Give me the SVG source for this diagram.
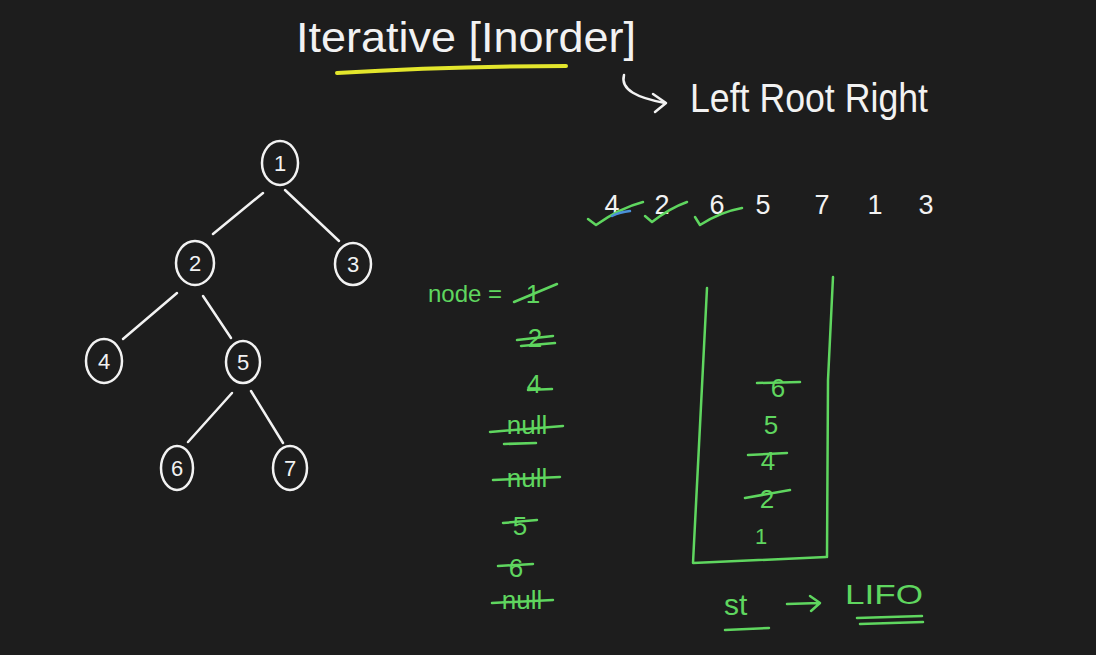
<svg xmlns="http://www.w3.org/2000/svg" width="1096" height="655" viewBox="0 0 1096 655">
<defs>
<style>
.w{fill:#f2f2f2;font-family:"Liberation Sans",Arial,sans-serif}
.g{fill:#5fd65f;font-family:"Liberation Sans",Arial,sans-serif}
.ws{fill:none;stroke:#f2f2f2;stroke-width:2.5;stroke-linecap:round;stroke-linejoin:round}
.gs{fill:none;stroke:#5fd65f;stroke-width:2.5;stroke-linecap:round;stroke-linejoin:round}
.node ellipse{fill:none;stroke:#f2f2f2;stroke-width:2.5}
.node text{fill:#f2f2f2;font-family:"Liberation Sans",Arial,sans-serif;font-size:22px;text-anchor:middle}
</style>
</defs>
<rect width="1096" height="655" fill="#1d1d1d"/>

<g id="title">
<text class="w" x="296" y="52" font-size="42" textLength="340" lengthAdjust="spacingAndGlyphs">Iterative [Inorder]</text>
<path d="M337,73 Q450,66 566,66" fill="none" stroke="#e3e62c" stroke-width="4" stroke-linecap="round"/>
</g>

<g id="order-note">
<path class="ws" d="M624,75 C620,90 638,98 665,103"/>
<path class="ws" d="M653,94 L666,103 L655,112"/>
<text class="w" x="690" y="112" font-size="40" textLength="238" lengthAdjust="spacingAndGlyphs">Left Root Right</text>
</g>

<g id="connectors">
<line class="ws" x1="263" y1="193" x2="213" y2="234"/>
<line class="ws" x1="285" y1="190" x2="339" y2="241"/>
<line class="ws" x1="177" y1="293" x2="123" y2="339"/>
<line class="ws" x1="203" y1="296" x2="231" y2="338"/>
<line class="ws" x1="232" y1="393" x2="188" y2="442"/>
<line class="ws" x1="251" y1="391" x2="283" y2="443"/>
</g>

<g id="node1" class="node"><ellipse cx="280" cy="163" rx="18" ry="22"/><text x="280" y="171">1</text></g>
<g id="node2" class="node"><ellipse cx="195" cy="263" rx="19" ry="22"/><text x="195" y="271">2</text></g>
<g id="node3" class="node"><ellipse cx="353" cy="264" rx="18" ry="21"/><text x="353" y="272">3</text></g>
<g id="node4" class="node"><ellipse cx="104" cy="361" rx="18" ry="22"/><text x="104" y="369">4</text></g>
<g id="node5" class="node"><ellipse cx="243" cy="362" rx="17" ry="21"/><text x="243" y="370">5</text></g>
<g id="node6" class="node"><ellipse cx="177" cy="468" rx="16" ry="22"/><text x="177" y="476">6</text></g>
<g id="node7" class="node"><ellipse cx="290" cy="468" rx="17" ry="22"/><text x="290" y="476">7</text></g>

<g id="sequence">
<text class="w" x="612" y="214" font-size="27" text-anchor="middle">4</text>
<text class="w" x="662" y="214" font-size="27" text-anchor="middle">2</text>
<text class="w" x="717" y="214" font-size="27" text-anchor="middle">6</text>
<text class="w" x="763" y="214" font-size="27" text-anchor="middle">5</text>
<text class="w" x="822" y="214" font-size="27" text-anchor="middle">7</text>
<text class="w" x="875" y="214" font-size="27" text-anchor="middle">1</text>
<text class="w" x="926" y="214" font-size="27" text-anchor="middle">3</text>
<path class="gs" d="M588,219 L596,225 Q620,208 643,202"/>
<path class="gs" d="M645,216 L652,222 Q670,208 687,202"/>
<path class="gs" d="M695,217 L700,225 Q720,212 742,208"/>
<path d="M612,216 Q620,212 630,211" fill="none" stroke="#4a90d9" stroke-width="2.5" stroke-linecap="round"/>
</g>

<g id="node-var">
<text class="g" x="428" y="302" font-size="24">node =</text>
<text class="g" x="533" y="303" font-size="26" text-anchor="middle">1</text>
<line class="gs" x1="514" y1="302" x2="557" y2="284"/>
<text class="g" x="535" y="347" font-size="26" text-anchor="middle">2</text>
<line class="gs" x1="517" y1="340" x2="553" y2="336"/>
<line class="gs" x1="521" y1="346" x2="555" y2="343"/>
<text class="g" x="534" y="393" font-size="26" text-anchor="middle">4</text>
<line class="gs" x1="528" y1="390" x2="552" y2="389"/>
<text class="g" x="527" y="434" font-size="26" text-anchor="middle">null</text>
<line class="gs" x1="490" y1="432" x2="563" y2="426"/>
<line class="gs" x1="504" y1="444" x2="536" y2="443"/>
<text class="g" x="527" y="487" font-size="26" text-anchor="middle">null</text>
<line class="gs" x1="493" y1="480" x2="560" y2="477"/>
<text class="g" x="520" y="535" font-size="26" text-anchor="middle">5</text>
<line class="gs" x1="503" y1="523" x2="537" y2="520"/>
<text class="g" x="516" y="577" font-size="26" text-anchor="middle">6</text>
<line class="gs" x1="498" y1="566" x2="533" y2="564"/>
<text class="g" x="522" y="609" font-size="26" text-anchor="middle">null</text>
<line class="gs" x1="492" y1="603" x2="553" y2="600"/>
</g>

<g id="stack">
<path class="gs" d="M707,288 L693,563 L826,557"/>
<path class="gs" d="M833,277 L828,380 L827,557"/>
<text class="g" x="778" y="397" font-size="26" text-anchor="middle">6</text>
<line class="gs" x1="757" y1="383" x2="800" y2="382"/>
<text class="g" x="771" y="434" font-size="26" text-anchor="middle">5</text>
<text class="g" x="768" y="470" font-size="26" text-anchor="middle">4</text>
<line class="gs" x1="748" y1="455" x2="787" y2="453"/>
<text class="g" x="767" y="508" font-size="26" text-anchor="middle">2</text>
<line class="gs" x1="745" y1="498" x2="790" y2="490"/>
<text class="g" x="761" y="544" font-size="22" text-anchor="middle">1</text>
</g>

<g id="lifo-note">
<text class="g" x="724" y="615" font-size="30">st</text>
<line class="gs" x1="725" y1="630" x2="769" y2="628"/>
<path class="gs" d="M787,604 L819,603 M810,596 L820,603 L811,611"/>
<text class="g" x="845" y="604" font-size="28" textLength="78" lengthAdjust="spacingAndGlyphs">LIFO</text>
<line class="gs" x1="857" y1="618" x2="922" y2="616"/>
<line class="gs" x1="860" y1="624" x2="923" y2="622"/>
</g>
</svg>
